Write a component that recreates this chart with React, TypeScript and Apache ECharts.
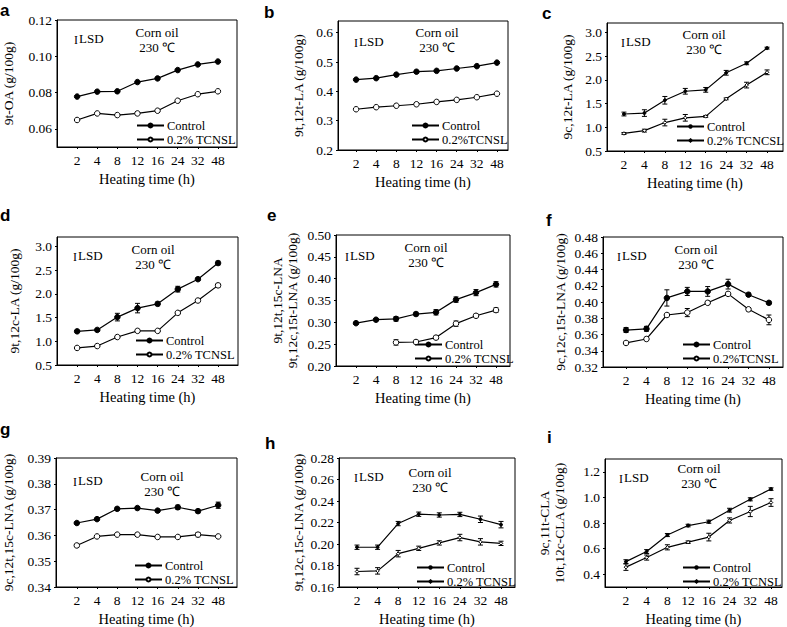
import React, { useEffect, useRef } from "react";
import * as echarts from "echarts";

const hours = ["2", "4", "8", "12", "16", "24", "32", "48"];

const aControl = [0.0778, 0.0805, 0.0807, 0.0858, 0.0878, 0.0924, 0.0955, 0.0971];
const aTcnsl = [0.0649, 0.0685, 0.0676, 0.0685, 0.07, 0.0755, 0.0791, 0.0807];
const aTicks = [0.06, 0.08, 0.1, 0.12];

const bControl = [0.44, 0.445, 0.457, 0.467, 0.47, 0.478, 0.486, 0.498];
const bTcnsl = [0.339, 0.346, 0.351, 0.356, 0.364, 0.371, 0.38, 0.392];
const bTicks = [0.2, 0.3, 0.4, 0.5, 0.6];

const cControl = [1.28, 1.3, 1.57, 1.76, 1.79, 2.15, 2.35, 2.67];
const cTcnsl = [0.87, 0.93, 1.1, 1.2, 1.23, 1.6, 1.89, 2.16];
const cControlErr = [0.04, 0.07, 0.08, 0.06, 0.05, 0.05, 0.03, 0.02];
const cTcnslErr = [0.02, 0.03, 0.07, 0.07, 0.02, 0.02, 0.06, 0.05];
const cTicks = [0.5, 1.0, 1.5, 2.0, 2.5, 3.0];

const dControl = [1.21, 1.24, 1.51, 1.7, 1.79, 2.1, 2.31, 2.65];
const dTcnsl = [0.86, 0.9, 1.09, 1.22, 1.22, 1.6, 1.86, 2.18];
const dControlErr = [0.03, 0.03, 0.08, 0.1, 0.04, 0.06, 0.03, 0.04];
const dTcnslErr = [0.02, 0.02, 0.02, 0.03, 0.02, 0.03, 0.03, 0.04];
const dTicks = [0.5, 1.0, 1.5, 2.0, 2.5, 3.0];

const eControl = [0.298, 0.306, 0.308, 0.319, 0.323, 0.352, 0.368, 0.387];
const eTcnsl = [null, null, 0.254, 0.255, 0.265, 0.297, 0.315, 0.328];
const eControlErr = [0.003, 0.003, 0.005, 0.004, 0.006, 0.006, 0.007, 0.006];
const eTcnslErr = [0, 0, 0.006, 0.004, 0.004, 0.006, 0.004, 0.005];
const eTicks = [0.2, 0.25, 0.3, 0.35, 0.4, 0.45, 0.5];

const fControl = [0.3655, 0.367, 0.405, 0.413, 0.413, 0.422, 0.409, 0.399];
const fTcnsl = [0.3496, 0.3545, 0.384, 0.387, 0.399, 0.41, 0.391, 0.378];
const fControlErr = [0.003, 0.003, 0.01, 0.005, 0.006, 0.006, 0.002, 0.002];
const fTcnslErr = [0.002, 0.002, 0.002, 0.005, 0.002, 0.002, 0.002, 0.006];
const fTicks = [0.32, 0.34, 0.36, 0.38, 0.4, 0.42, 0.44, 0.46, 0.48];

const gControl = [0.3648, 0.3663, 0.3703, 0.3706, 0.3696, 0.3709, 0.3694, 0.3717];
const gTcnsl = [0.3561, 0.3596, 0.3603, 0.3603, 0.3594, 0.3594, 0.3603, 0.3596];
const gControlErr = [0.0004, 0.0005, 0.0006, 0.0006, 0.0005, 0.0008, 0.0007, 0.0012];
const gTcnslErr = [0.0006, 0.0004, 0.0003, 0.0003, 0.0003, 0.0003, 0.0008, 0.0004];
const gTicks = [0.34, 0.35, 0.36, 0.37, 0.38, 0.39];

const hControl = [0.197, 0.197, 0.219, 0.2277, 0.227, 0.2275, 0.223, 0.218];
const hTcnsl = [0.1744, 0.175, 0.191, 0.196, 0.201, 0.206, 0.202, 0.2006];
const hControlErr = [0.002, 0.002, 0.002, 0.002, 0.002, 0.002, 0.003, 0.003];
const hTcnslErr = [0.003, 0.003, 0.003, 0.002, 0.002, 0.003, 0.003, 0.002];
const hTicks = [0.16, 0.18, 0.2, 0.22, 0.24, 0.26, 0.28];

const iControl = [0.498, 0.577, 0.706, 0.78, 0.81, 0.9, 0.985, 1.065];
const iTcnsl = [0.455, 0.53, 0.61, 0.65, 0.69, 0.82, 0.89, 0.96];
const iControlErr = [0.015, 0.015, 0.012, 0.01, 0.012, 0.015, 0.012, 0.01];
const iTcnslErr = [0.025, 0.02, 0.02, 0.01, 0.03, 0.02, 0.04, 0.03];
const iTicks = [0.4, 0.6, 0.8, 1.0, 1.2];

type Panel = {
  letter: string;
  control: (number | null)[];
  tcnsl: (number | null)[];
  controlErr?: number[];
  tcnslErr?: number[];
  ticks: number[];
  dec: number;
  yMin: number;
  yMax: number;
  yName: string;
  tcnslLabel: string;
  small?: boolean;
  left: number; top: number; width: number; height: number;
  xMin: number; xMax: number;
  nameGap: number;
  letterX: number; letterBase: number;
  lsdX: number; lsdY: number; oilX: number; oilY: number;
  legendLeft: number; legendTop: number;
};

const panels: Panel[] = [
  { letter: "a", control: aControl, tcnsl: aTcnsl, ticks: aTicks, dec: 2, yMin: 0.05, yMax: 0.12,
    yName: "9t-OA (g/100g)", tcnslLabel: "0.2% TCNSL",
    left: 57, top: 20, width: 180, height: 127, xMin: 0, xMax: 8.95, nameGap: 41,
    letterX: 0, letterBase: 15, lsdX: 17, lsdY: 18, oilX: 100, oilY: 12, legendLeft: 79, legendTop: 28 },
  { letter: "b", control: bControl, tcnsl: bTcnsl, ticks: bTicks, dec: 1, yMin: 0.2, yMax: 0.64,
    yName: "9t,12t-LA (g/100g)", tcnslLabel: "0.2%TCNSL",
    left: 338, top: 21, width: 170, height: 129, xMin: 0.1, xMax: 8.55, nameGap: 32,
    letterX: 264, letterBase: 17, lsdX: 16, lsdY: 20, oilX: 99, oilY: 11, legendLeft: 73, legendTop: 31 },
  { letter: "c", control: cControl, tcnsl: cTcnsl, controlErr: cControlErr, tcnslErr: cTcnslErr, ticks: cTicks, dec: 1,
    yMin: 0.5, yMax: 3.2, yName: "9c,12t-LA (g/100g)", tcnslLabel: "0.2% TCNCSL", small: true,
    left: 607, top: 23, width: 176, height: 128, xMin: 0.17, xMax: 8.78, nameGap: 32,
    letterX: 542, letterBase: 18, lsdX: 14, lsdY: 18, oilX: 97, oilY: 11, legendLeft: 69, legendTop: 31 },
  { letter: "d", control: dControl, tcnsl: dTcnsl, controlErr: dControlErr, tcnslErr: dTcnslErr, ticks: dTicks, dec: 1,
    yMin: 0.5, yMax: 3.2, yName: "9t,12c-LA (g/100g)", tcnslLabel: "0.2% TCNSL",
    left: 57, top: 237, width: 181, height: 128, xMin: 0, xMax: 8.99, nameGap: 35,
    letterX: 0, letterBase: 220, lsdX: 16, lsdY: 18, oilX: 96, oilY: 12, legendLeft: 78, legendTop: 31 },
  { letter: "e", control: eControl, tcnsl: eTcnsl, controlErr: eControlErr, tcnslErr: eTcnslErr, ticks: eTicks, dec: 2,
    yMin: 0.2, yMax: 0.5, yName: "9t,12t,15c-LNA\n9t,12c,15t-LNA (g/100g)", tcnslLabel: "0.2% TCNSL",
    left: 336, top: 235, width: 174, height: 131, xMin: 0, xMax: 8.7, nameGap: 36,
    letterX: 267, letterBase: 220, lsdX: 9, lsdY: 20, oilX: 90, oilY: 12, legendLeft: 78, legendTop: 28 },
  { letter: "f", control: fControl, tcnsl: fTcnsl, controlErr: fControlErr, tcnslErr: fTcnslErr, ticks: fTicks, dec: 2,
    yMin: 0.32, yMax: 0.48, yName: "9c,12c,15t-LNA (g/100g)", tcnslLabel: "0.2%TCNSL",
    left: 603, top: 237, width: 180, height: 130, xMin: -0.13, xMax: 8.69, nameGap: 35,
    letterX: 546, letterBase: 225, lsdX: 14, lsdY: 18, oilX: 93, oilY: 12, legendLeft: 79, legendTop: 29 },
  { letter: "g", control: gControl, tcnsl: gTcnsl, controlErr: gControlErr, tcnslErr: gTcnslErr, ticks: gTicks, dec: 2,
    yMin: 0.34, yMax: 0.39, yName: "9c,12t,15c-LNA (g/100g)", tcnslLabel: "0.2% TCNSL",
    left: 54, top: 458, width: 183, height: 130, xMin: -0.03, xMax: 8.93, nameGap: 40,
    letterX: 0, letterBase: 434, lsdX: 19, lsdY: 22, oilX: 108, oilY: 18, legendLeft: 80, legendTop: 29 },
  { letter: "h", control: hControl, tcnsl: hTcnsl, controlErr: hControlErr, tcnslErr: hTcnslErr, ticks: hTicks, dec: 2,
    yMin: 0.16, yMax: 0.28, yName: "9t,12c,15c-LNA (g/100g)", tcnslLabel: "0.2% TCNSL", small: true,
    left: 339, top: 458, width: 176, height: 130, xMin: 0.125, xMax: 8.68, nameGap: 32,
    letterX: 265, letterBase: 448, lsdX: 15, lsdY: 18, oilX: 91, oilY: 14, legendLeft: 77, legendTop: 27 },
  { letter: "i", control: iControl, tcnsl: iTcnsl, controlErr: iControlErr, tcnslErr: iTcnslErr, ticks: iTicks, dec: 1,
    yMin: 0.3, yMax: 1.3, yName: "9c,11t-CLA\n10t,12c-CLA (g/100g)", tcnslLabel: "0.2% TCNSL", small: true,
    left: 605, top: 459, width: 177, height: 129, xMin: -0.01, xMax: 8.53, nameGap: 38,
    letterX: 547, letterBase: 442, lsdX: 14, lsdY: 18, oilX: 94, oilY: 9, legendLeft: 77, legendTop: 27 },
];

const SERIF = "Liberation Serif, Times New Roman, serif";
const xIdx = hours.map((_, k) => k + 1);

function errSeries(name: string, gi: number, vals: (number | null)[], errs: number[]) {
  const data = vals
    .map((v, k) => (v == null ? null : [k + 1, v, errs[k]]))
    .filter((d) => d !== null);
  return {
    type: "custom",
    name,
    xAxisIndex: gi,
    yAxisIndex: gi,
    silent: true,
    z: 3,
    data,
    renderItem: (_p: any, api: any) => {
      const x = api.value(0);
      const y = api.value(1);
      const e = api.value(2);
      if (!e || isNaN(y)) return { type: "group", children: [] };
      const p1 = api.coord([x, y + e]);
      const p2 = api.coord([x, y - e]);
      const w = 2.5;
      const style = { stroke: "#000", lineWidth: 1 };
      return {
        type: "group",
        children: [
          { type: "line", shape: { x1: p1[0], y1: p1[1], x2: p2[0], y2: p2[1] }, style },
          { type: "line", shape: { x1: p1[0] - w, y1: p1[1], x2: p1[0] + w, y2: p1[1] }, style },
          { type: "line", shape: { x1: p2[0] - w, y1: p2[1], x2: p2[0] + w, y2: p2[1] }, style },
        ],
      };
    },
  };
}

function buildOption() {
  const grid: any[] = [];
  const xAxis: any[] = [];
  const yAxis: any[] = [];
  const series: any[] = [];
  const legend: any[] = [];
  const graphic: any[] = [];

  panels.forEach((p, gi) => {
    grid.push({
      left: p.left, top: p.top, width: p.width, height: p.height,
      show: true, borderColor: "#000", borderWidth: 1, containLabel: false,
    });
    xAxis.push({
      type: "value", gridIndex: gi, min: p.xMin, max: p.xMax,
      axisLine: { show: true, onZero: false, lineStyle: { color: "#000", width: 1 } },
      axisTick: { show: true, length: 2, customValues: xIdx, lineStyle: { color: "#000" } },
      axisLabel: {
        customValues: xIdx, margin: 6, color: "#000", fontFamily: SERIF, fontSize: 13.5,
        formatter: (v: number) => hours[Math.round(v) - 1] ?? "",
      },
      splitLine: { show: false },
      name: "Heating time (h)", nameLocation: "middle", nameGap: 24,
      nameTextStyle: { color: "#000", fontFamily: SERIF, fontSize: 14.5 },
    });
    yAxis.push({
      type: "value", gridIndex: gi, min: p.yMin, max: p.yMax,
      axisLine: { show: true, onZero: false, lineStyle: { color: "#000", width: 1 } },
      axisTick: { show: true, length: 2, customValues: p.ticks, lineStyle: { color: "#000" } },
      axisLabel: {
        customValues: p.ticks, margin: 5, color: "#000", fontFamily: SERIF, fontSize: 13.5,
        formatter: (v: number) => v.toFixed(p.dec),
      },
      splitLine: { show: false },
      name: p.yName, nameLocation: "middle", nameGap: p.nameGap,
      nameTextStyle: { color: "#000", fontFamily: SERIF, fontSize: 13.5, lineHeight: 15 },
    });

    const cName = `${p.letter}|Control`;
    const tName = `${p.letter}|TCNSL`;
    const symSize = p.small ? 3 : 5.5;
    series.push({
      type: "line", name: cName, xAxisIndex: gi, yAxisIndex: gi, z: 4,
      data: p.control.map((v, k) => [k + 1, v == null ? "-" : v]),
      symbol: "circle", symbolSize: symSize, showSymbol: true,
      itemStyle: { color: "#000", borderColor: "#000", borderWidth: 1 },
      lineStyle: { color: "#000", width: 1.2 },
    });
    series.push({
      type: "line", name: tName, xAxisIndex: gi, yAxisIndex: gi, z: 4,
      data: p.tcnsl.map((v, k) => [k + 1, v == null ? "-" : v]),
      symbol: p.small ? "diamond" : "circle", symbolSize: p.small ? 3.5 : 5.5, showSymbol: true,
      itemStyle: { color: "#fff", borderColor: "#000", borderWidth: 1 },
      lineStyle: { color: "#000", width: 1.2 },
    });
    if (p.controlErr) series.push(errSeries(`${p.letter}|errC`, gi, p.control, p.controlErr));
    if (p.tcnslErr) series.push(errSeries(`${p.letter}|errT`, gi, p.tcnsl, p.tcnslErr));

    legend.push({
      data: [cName, tName], orient: "vertical", selectedMode: false,
      left: p.left + p.legendLeft, top: p.top + p.height - p.legendTop,
      itemWidth: 27, itemHeight: p.small ? 3 : 5, itemGap: 1, padding: 0,
      textStyle: { color: "#000", fontFamily: SERIF, fontSize: 12.5, padding: [0, 0, 0, -2] },
      formatter: (n: string) => (n.endsWith("Control") ? "Control" : p.tcnslLabel),
    });

    graphic.push({
      type: "text", x: p.letterX, y: p.letterBase - 5, z: 10,
      style: { text: p.letter, font: "bold 17px Liberation Sans, Arial, sans-serif", fill: "#000", textVerticalAlign: "middle" },
    });
    graphic.push({
      type: "text", x: p.left + p.lsdX, y: p.top + p.lsdY, z: 10,
      style: {
        text: "{i|I}{t|LSD}",
        fill: "#000",
        textVerticalAlign: "middle",
        rich: {
          i: { fontFamily: SERIF, fontSize: 12, fill: "#000", padding: [3, 1, 0, 0] },
          t: { fontFamily: SERIF, fontSize: 13, fill: "#000" },
        },
      },
    });
    graphic.push({
      type: "text", x: p.left + p.oilX, y: p.top + p.oilY, z: 10,
      style: { text: "Corn oil", font: `13px ${SERIF}`, fill: "#000", textAlign: "center", textVerticalAlign: "middle" },
    });
    graphic.push({
      type: "text", x: p.left + p.oilX, y: p.top + p.oilY + 15, z: 10,
      style: { text: "230 ℃", font: `13px ${SERIF}`, fill: "#000", textAlign: "center", textVerticalAlign: "middle" },
    });
  });

  return { animation: false, backgroundColor: "#fff", grid, xAxis, yAxis, series, legend, graphic };
}

export default function App() {
  const ref = useRef<HTMLDivElement>(null);
  useEffect(() => {
    if (!ref.current) return;
    const chart = echarts.init(ref.current, undefined, { renderer: "svg" });
    chart.setOption(buildOption() as any);
    return () => chart.dispose();
  }, []);
  return (
    <div
      ref={ref}
      style={{ position: "fixed", left: 0, top: 0, width: 787, height: 627, background: "#fff" }}
    />
  );
}
